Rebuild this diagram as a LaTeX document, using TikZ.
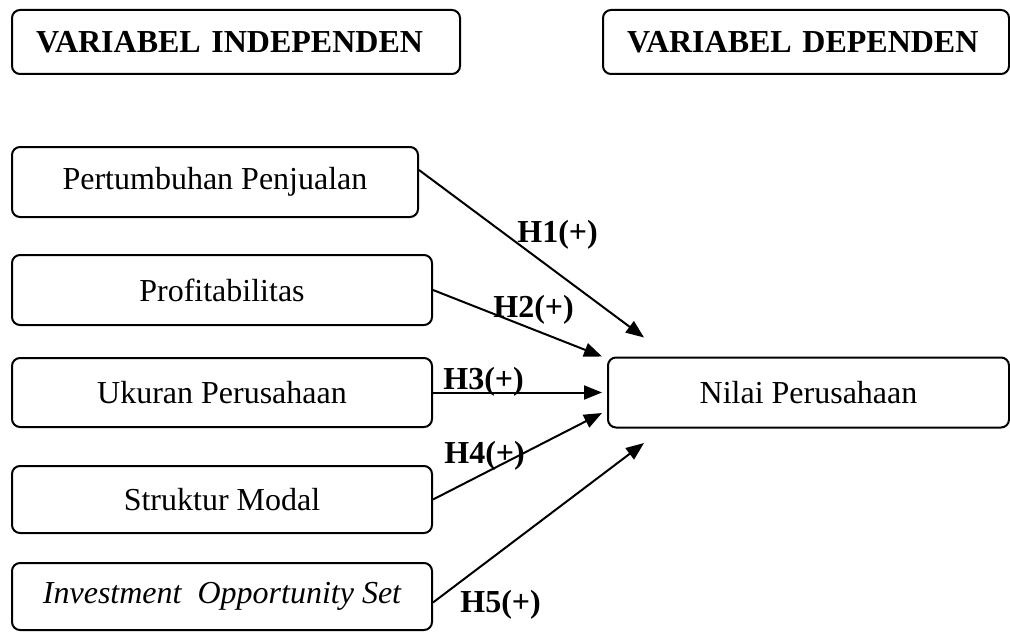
\documentclass[tikz,border=0pt]{standalone}
\usepackage{fontspec}
\setmainfont{Liberation Serif}
\usetikzlibrary{arrows.meta}

\newcommand{\bigtext}{\fontsize{16pt}{19pt}\selectfont}

\tikzset{
  varbox/.style={draw, line width=1pt, rounded corners=4pt, minimum width=210pt,
    minimum height=35pt, inner sep=0pt},
  headbox/.style={draw, line width=1pt, rounded corners=4pt, minimum height=32pt,
    inner xsep=12pt, align=left, font=\bigtext\bfseries},
  arr/.style={line width=1pt, -{Triangle[length=9pt,width=7pt]}},
  hyp/.style={anchor=base west, inner sep=0pt, font=\bigtext\bfseries}
}

\begin{document}
\begin{tikzpicture}[x=0.5pt, y=-0.5pt, font=\bigtext]
  \useasboundingbox (0,0) rectangle (1010,631);

  % headers
  \node [headbox, text width=200pt] (indep) at (236,42) {VARIABEL INDEPENDEN};
  \node [headbox, text width=179pt] (dep) at (806,42) {VARIABEL DEPENDEN};

  % variables
  \node [varbox, minimum width=203pt] (tumbuh) at (215,182) {Pertumbuhan Penjualan};
  \node [varbox] (profit) at (222,290) {Profitabilitas};
  \node [varbox, minimum height=34.5pt] (ukuran) at (222,392.5) {Ukuran Perusahaan};
  \node [varbox, minimum height=33.5pt] (struktur) at (222,499.5) {Struktur Modal};
  \node [varbox, minimum height=33.5pt] (ios) at (222,596.5) {\itshape Investment~~Opportunity Set};
  \node [varbox, minimum width=200.5pt] (nilai) at (808.5,392.5) {Nilai Perusahaan};

  % hypotheses
  \draw [arr] ([yshift=6pt]tumbuh.east) -- ([xshift=18.5pt, yshift=9.5pt]nilai.north west);
  \draw [arr] (profit.east) -- ([xshift=-2.5pt]nilai.north west);
  \draw [arr] (ukuran.east) -- ([xshift=-2.5pt]nilai.west);
  \draw [arr] (struktur.east) -- ([xshift=-2.5pt, yshift=7.75pt]nilai.south west);
  \draw [arr] ([yshift=-3pt]ios.east) -- ([xshift=18.5pt, yshift=-7.25pt]nilai.south west);

  \node [hyp] (h1) at (517,242) {H1(+)};
  \node [hyp] (h2) at (493,317) {H2(+)};
  \node [hyp] (h3) at (443,389) {H3(+)};
  \node [hyp] (h4) at (444,463) {H4(+)};
  \node [hyp] (h5) at (460,612) {H5(+)};
\end{tikzpicture}
\end{document}
